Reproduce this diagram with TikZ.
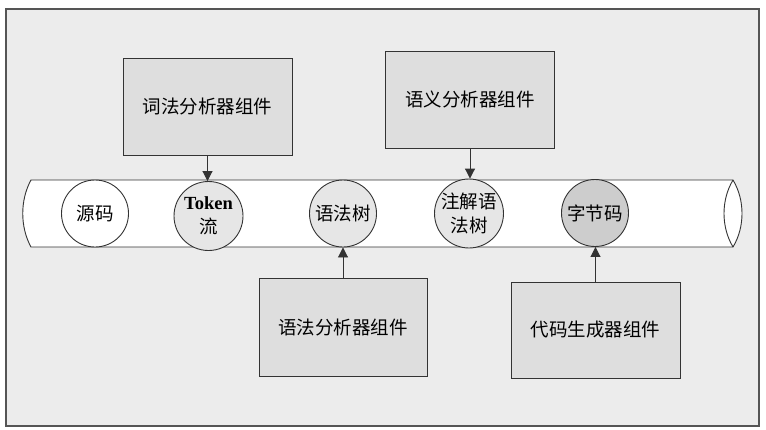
\documentclass[tikz,border=0pt]{standalone}
\usepackage{fontspec}
\setmainfont{Liberation Serif}
\newfontfamily\cjk{Noto Sans CJK SC}
\usetikzlibrary{arrows.meta}

\definecolor{pagebg}{HTML}{ECECEC}
\definecolor{framegray}{HTML}{555555}
\definecolor{linegray}{HTML}{333333}
\definecolor{boxgray}{HTML}{DEDEDE}
\definecolor{stagegray}{HTML}{E6E6E6}
\definecolor{outgray}{HTML}{CDCDCD}

\begin{document}
\begin{tikzpicture}[x=1pt,y=-1pt,line width=0.9pt,
  component/.style={draw=linegray, fill=boxgray, minimum width=169pt,
    minimum height=97pt, inner sep=0pt, font=\cjk\fontsize{18.5}{22}\selectfont},
  stage/.style={circle, draw=linegray, fill=stagegray, minimum size=67pt,
    inner sep=0pt, align=center, font=\cjk\fontsize{18.5}{24}\selectfont},
  feed/.style={draw=linegray, -{Triangle[length=10pt,width=10pt]}}]

\useasboundingbox (0,0) rectangle (766,429);

% page frame
\draw[framegray, fill=pagebg, line width=1.2pt] (6,9) rectangle (759,426);

% the pipeline drawn as a horizontal cylinder
\draw[linegray, fill=white]
  (31,180) -- (733,180) .. controls (745,200) and (745,227) .. (733,247)
  -- (31,247) .. controls (20,227) and (20,200) .. (31,180) -- cycle;
\draw[linegray] (733,180) .. controls (721,200) and (721,227) .. (733,247);

% data passed along the pipeline
\node[stage, fill=white] (src) at (95,213.5) {源码};
\node[stage, minimum size=69pt] (tok) at (208.5,216) {\textrm{\bfseries Token}\\流};
\node[stage] (ast) at (343,213.5) {语法树};
\node[stage] (aast) at (469,213.5) {注解语\\法树};
\node[stage, fill=outgray] (bc) at (595,213) {字节码};

% compiler components
\node[component] (lex) at (207.5,106.5) {词法分析器组件};
\node[component] (sem) at (470,99.5) {语义分析器组件};
\node[component, minimum height=98pt, minimum width=168pt] (syn) at (343,327) {语法分析器组件};
\node[component, minimum height=96pt] (gen) at (595.5,330) {代码生成器组件};

% components feeding the pipeline
\draw[feed] (lex.south) -- (lex.south |- tok.north);
\draw[feed] (sem.south) -- (sem.south |- aast.north);
\draw[feed] (syn.north) -- (syn.north |- ast.south);
\draw[feed] (gen.north) -- (gen.north |- bc.south);
\end{tikzpicture}
\end{document}
